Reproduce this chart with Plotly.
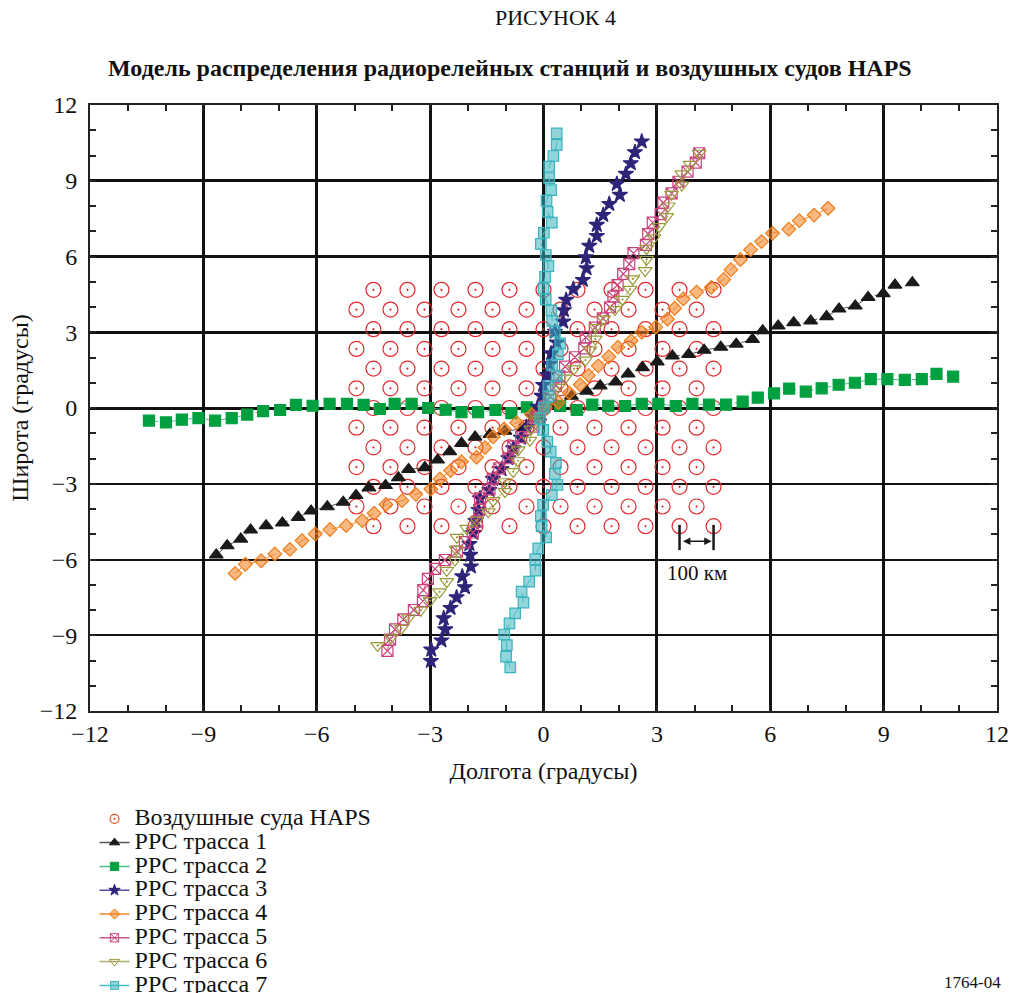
import plotly.graph_objects as go

# ---- HAPS platform lattice (degrees) ----
haps_rows = [4.68, 3.90, 3.12, 2.34, 1.56, 0.78, 0.0, -0.78, -1.56, -2.34, -3.12, -3.90, -4.68]
haps_cols_even = [-4.5, -3.6, -2.7, -1.8, -0.9, 0.0, 0.9, 1.8, 2.7, 3.6, 4.5]
haps_cols_odd = [-4.95, -4.05, -3.15, -2.25, -1.35, -0.45, 0.45, 1.35, 2.25, 3.15, 4.05]

# ---- FS (РРС) routes: longitude / latitude of each station ----
t1_lon = [-8.66, -8.37, -8.01, -7.75, -7.34, -6.91, -6.49, -6.15, -5.72, -5.30, -4.96, -4.62, -4.18,
          -3.84, -3.57, -3.14, -2.80, -2.48, -2.17, -1.81, -1.42, -1.02, -0.53, -0.10, 0.33, 0.74,
          1.14, 1.50, 1.91, 2.24, 2.62, 3.01, 3.41, 3.84, 4.25, 4.69, 5.10, 5.53, 5.80, 6.21, 6.62,
          7.07, 7.49, 7.82, 8.25, 8.59, 8.99, 9.30, 9.76]
t1_lat = [-5.82, -5.45, -5.19, -4.83, -4.66, -4.55, -4.33, -4.08, -3.91, -3.73, -3.46, -3.16, -3.07,
          -2.76, -2.43, -2.36, -2.06, -1.73, -1.40, -1.15, -1.05, -0.92, -0.80, -0.35, 0.12, 0.47,
          0.67, 0.88, 1.03, 1.35, 1.60, 1.83, 2.06, 2.12, 2.29, 2.41, 2.53, 2.72, 3.06, 3.25, 3.38,
          3.45, 3.62, 3.92, 4.04, 4.38, 4.53, 4.87, 4.96]

t2_lon = [-10.44, -9.99, -9.57, -9.13, -8.69, -8.25, -7.84, -7.42, -6.97, -6.55, -6.11, -5.66, -5.20,
          -4.76, -4.33, -3.94, -3.49, -3.05, -2.59, -2.17, -1.73, -1.27, -0.85, -0.44, -0.02, 0.44,
          0.88, 1.29, 1.71, 2.16, 2.60, 3.04, 3.50, 3.94, 4.38, 4.83, 5.27, 5.67, 6.10, 6.50, 6.94,
          7.36, 7.81, 8.24, 8.66, 9.10, 9.56, 10.01, 10.40, 10.84]
t2_lat = [-0.50, -0.57, -0.46, -0.40, -0.50, -0.40, -0.26, -0.12, -0.08, 0.12, 0.09, 0.16, 0.16,
          0.12, -0.04, 0.16, 0.16, 0.00, -0.07, -0.16, -0.16, -0.08, -0.20, 0.03, 0.03, 0.08,
          -0.08, 0.13, 0.09, 0.08, 0.16, 0.16, 0.08, 0.16, 0.13, 0.13, 0.25, 0.41, 0.58, 0.77, 0.65,
          0.78, 0.92, 1.00, 1.14, 1.14, 1.11, 1.14, 1.35, 1.24]

t3_lon = [-2.98, -2.97, -2.70, -2.60, -2.64, -2.46, -2.30, -2.08, -2.15, -1.92, -1.94, -1.96, -1.86,
          -1.80, -1.72, -1.68, -1.43, -1.34, -1.11, -0.93, -0.80, -0.60, -0.45, -0.30, -0.15, -0.05,
          -0.01, 0.10, 0.17, 0.20, 0.35, 0.30, 0.52, 0.54, 0.60, 0.79, 1.04, 1.14, 1.12, 1.21, 1.41,
          1.41, 1.58, 1.74, 2.02, 1.94, 2.18, 2.31, 2.42, 2.60]
t3_lat = [-10.02, -9.57, -9.21, -8.77, -8.33, -7.92, -7.50, -7.10, -6.67, -6.28, -5.82, -5.39, -4.95,
          -4.48, -4.04, -3.58, -3.25, -2.81, -2.43, -1.99, -1.60, -1.18, -0.75, -0.35, 0.05, 0.48,
          0.91, 1.30, 1.74, 2.16, 2.59, 3.02, 3.42, 3.87, 4.28, 4.71, 5.07, 5.53, 5.97, 6.42, 6.81,
          7.25, 7.64, 8.08, 8.44, 8.87, 9.27, 9.69, 10.13, 10.55]

t4_lon = [-8.16, -7.89, -7.47, -7.11, -6.71, -6.39, -6.04, -5.65, -5.22, -4.80, -4.48, -4.17, -3.74,
          -3.38, -2.98, -2.74, -2.46, -2.17, -1.77, -1.55, -1.33, -1.04, -0.71, -0.31, 0.05, 0.39,
          0.68, 0.97, 1.19, 1.45, 1.73, 1.97, 2.32, 2.60, 2.97, 3.28, 3.47, 3.70, 4.05, 4.44, 4.77,
          4.96, 5.21, 5.48, 5.77, 6.06, 6.49, 6.77, 7.16, 7.53]
t4_lat = [-6.55, -6.19, -6.05, -5.78, -5.60, -5.25, -4.99, -4.81, -4.66, -4.46, -4.17, -3.82, -3.67,
          -3.42, -3.21, -2.81, -2.48, -2.13, -1.95, -1.57, -1.14, -0.83, -0.58, -0.26, 0.00, 0.22,
          0.60, 0.92, 1.29, 1.67, 2.03, 2.41, 2.66, 3.00, 3.20, 3.52, 3.95, 4.32, 4.59, 4.78, 5.09,
          5.48, 5.88, 6.27, 6.59, 6.92, 7.08, 7.42, 7.64, 7.91]

t5_lon = [-4.13, -4.06, -3.93, -3.71, -3.43, -3.19, -3.18, -3.06, -2.87, -2.61, -2.29, -2.08, -1.87,
          -1.76, -1.70, -1.68, -1.43, -1.34, -1.17, -0.93, -0.80, -0.59, -0.27, -0.15, 0.02, 0.18,
          0.33, 0.42, 0.57, 0.83, 1.08, 1.12, 1.36, 1.57, 1.76, 1.85, 1.96, 2.11, 2.27, 2.38, 2.71,
          2.77, 2.89, 3.10, 3.17, 3.39, 3.57, 3.81, 4.03, 4.12]
t5_lat = [-9.62, -9.17, -8.77, -8.37, -8.00, -7.65, -7.21, -6.77, -6.37, -6.02, -5.69, -5.31, -4.93,
          -4.50, -4.04, -3.58, -3.22, -2.81, -2.39, -1.99, -1.53, -1.15, -0.74, -0.35, 0.05, 0.45,
          0.88, 1.25, 1.64, 2.01, 2.36, 2.80, 3.18, 3.55, 3.99, 4.41, 4.87, 5.31, 5.70, 6.13, 6.46,
          6.89, 7.34, 7.68, 8.13, 8.50, 8.96, 9.36, 9.72, 10.09]

t6_lon = [-4.39, -4.04, -3.76, -3.57, -3.25, -3.00, -2.75, -2.56, -2.56, -2.34, -2.31, -2.29, -2.03,
          -1.77, -1.46, -1.33, -1.02, -1.02, -0.80, -0.68, -0.67, -0.36, -0.33, -0.15, 0.02, 0.20,
          0.39, 0.57, 0.81, 1.11, 1.23, 1.37, 1.38, 1.59, 1.89, 2.09, 2.29, 2.36, 2.69, 2.73, 2.73,
          2.92, 3.06, 3.26, 3.30, 3.39, 3.66, 3.66, 3.88, 4.12]
t6_lat = [-9.41, -9.10, -8.73, -8.31, -8.01, -7.63, -7.28, -6.88, -6.43, -6.02, -5.60, -5.12, -4.77,
          -4.44, -4.11, -3.67, -3.31, -2.92, -2.52, -2.09, -1.66, -1.28, -0.84, -0.45, -0.03, 0.40,
          0.82, 1.18, 1.55, 1.90, 2.30, 2.73, 3.18, 3.53, 3.90, 4.30, 4.70, 5.11, 5.44, 5.89, 6.32,
          6.74, 7.18, 7.58, 8.00, 8.46, 8.83, 9.27, 9.65, 10.09]

t7_lon = [-0.88, -0.99, -0.97, -1.04, -0.90, -0.75, -0.53, -0.58, -0.38, -0.21, -0.22, -0.14, 0.07,
          -0.05, -0.07, -0.01, 0.22, 0.37, 0.30, 0.33, 0.19, 0.10, -0.01, -0.09, 0.01, 0.13,
          0.13, 0.35, 0.23, 0.38, 0.44, 0.30, 0.23, 0.21, 0.06, 0.00, 0.04, 0.13, 0.06, -0.07, 0.01,
          0.22, 0.11, 0.08, 0.20, 0.15, 0.15, 0.26, 0.35, 0.35]
t7_lat = [-10.27, -9.85, -9.39, -8.97, -8.53, -8.13, -7.71, -7.27, -6.88, -6.44, -5.99, -5.56, -5.12,
          -4.68, -4.28, -3.84, -3.45, -3.05, -2.61, -2.17, -1.73, -1.33, -0.87, -0.42, 0.01, 0.45,
          0.87, 1.27, 1.70, 2.13, 2.56, 3.02, 3.45, 3.87, 4.30, 4.74, 5.19, 5.62, 6.06, 6.50, 6.94,
          7.34, 7.77, 8.21, 8.63, 9.10, 9.56, 9.98, 10.42, 10.88]

haps_name = "Воздушные суда HAPS"
track_names = ["РРС трасса 1", "РРС трасса 2", "РРС трасса 3", "РРС трасса 4",
               "РРС трасса 5", "РРС трасса 6", "РРС трасса 7"]
axis_ticks = [-12, -9, -6, -3, 0, 3, 6, 9, 12]
heavy_lat_lines = [0, 3, 6, 9]

SERIF = "Liberation Serif, Times New Roman, serif"
INK = "#111111"


def legend_label(text):
    # large serif glyphs on a tight legend line pitch
    return ('<span style="font-size:24px;font-family:Liberation Serif,serif">'
            + text + "</span>")


# Build HAPS lattice points row by row (rows alternate between the two column sets)
haps_x, haps_y = [], []
for i, lat in enumerate(haps_rows):
    cols = haps_cols_even if i % 2 == 0 else haps_cols_odd
    for lon in cols:
        haps_x.append(lon)
        haps_y.append(lat)

fig = go.Figure()

HAPS_RED = "#e2282c"
fig.add_trace(go.Scatter(
    x=haps_x, y=haps_y, mode="markers", name=haps_name, legendgroup="haps",
    showlegend=False,
    marker=dict(symbol="circle-open-dot", size=15, color=HAPS_RED, line=dict(width=1.2)),
))
# compact legend key for the platforms
fig.add_trace(go.Scatter(
    x=[None], y=[None], mode="markers", name=legend_label(haps_name), legendgroup="haps",
    marker=dict(symbol="circle-open-dot", size=9, color="#e8542c", line=dict(width=1.2)),
    hoverinfo="skip",
))

# (lon, lat, marker symbol, marker size, marker colour, fill colour, line colour)
track_styles = [
    (t1_lon, t1_lat, "triangle-up", 12, "#1a1a1a", "#1a1a1a", "#555555"),
    (t2_lon, t2_lat, "square", 11, "#00a040", "#00a040", "#48c088"),
    (t3_lon, t3_lat, "star", 11.5, "#2e2478", "#2e2478", "#5a4c9c"),
    (t4_lon, t4_lat, "diamond", 10.5, "#f07d19", "rgba(240,125,25,0.55)", "#f08a30"),
    (t5_lon, t5_lat, "square-x-open", 11, "#c8407c", "#c8407c", "#c85a8c"),
    (t6_lon, t6_lat, "triangle-down-open-dot", 12, "#9a9a3a", "#9a9a3a", "#b0b070"),
    (t7_lon, t7_lat, "square", 10.5, "#38b4be", "rgba(56,180,190,0.55)", "#40c0c4"),
]

for idx, (name, (lon, lat, sym, size, mcol, fcol, lcol)) in enumerate(zip(track_names, track_styles)):
    group = "track%d" % (idx + 1)
    fig.add_trace(go.Scatter(
        x=lon, y=lat, mode="lines+markers", name=name, legendgroup=group, showlegend=False,
        line=dict(color=lcol, width=1, dash="dash"),
        marker=dict(symbol=sym, size=size, color=fcol, line=dict(color=mcol, width=1.2)),
    ))
    # legend key: solid line with a small marker
    fig.add_trace(go.Scatter(
        x=[None], y=[None], mode="lines+markers", name=legend_label(name), legendgroup=group,
        line=dict(color=lcol, width=1.5),
        marker=dict(symbol=sym, size=size * 0.75, color=fcol, line=dict(color=mcol, width=1)),
        hoverinfo="skip",
    ))

# empty trace that carries the heavier latitude grid lines
fig.add_trace(go.Scatter(x=[None], y=[None], yaxis="y2", showlegend=False,
                         hoverinfo="skip"))

# Scale bar between two neighbouring platforms of the bottom row
bar_x0, bar_x1 = haps_cols_even[-2], haps_cols_even[-1]
bar_top = haps_rows[-1] + 0.05
bar_bot = haps_rows[-1] - 0.95
bar_mid = haps_rows[-1] - 0.6
for bx in (bar_x0, bar_x1):
    fig.add_shape(type="line", xref="x", yref="y", x0=bx, x1=bx, y0=bar_top, y1=bar_bot,
                  line=dict(color="#1a1a1a", width=2.5))
fig.add_annotation(x=bar_x1 - 0.05, y=bar_mid, ax=bar_x0 + 0.05, ay=bar_mid,
                   xref="x", yref="y", axref="x", ayref="y", text="",
                   showarrow=True, arrowhead=2, arrowside="end+start",
                   arrowsize=1, arrowwidth=1.5, arrowcolor="#1a1a1a")
fig.add_annotation(x=(bar_x0 + bar_x1) / 2, y=bar_bot - 0.9, xref="x", yref="y",
                   text="100 км", showarrow=False,
                   font=dict(family=SERIF, size=21, color=INK))

# Headings
fig.add_annotation(x=0.513, y=1.144, xref="paper", yref="paper", text="РИСУНОК 4",
                   yanchor="middle", showarrow=False,
                   font=dict(family=SERIF, size=22, color=INK))
fig.add_annotation(x=0.463, y=1.061, xref="paper", yref="paper",
                   text="<b>Модель распределения радиорелейных станций и воздушных судов HAPS</b>",
                   yanchor="middle", showarrow=False,
                   font=dict(family=SERIF, size=24, color=INK))
fig.add_annotation(x=1.007, y=-0.448, xref="paper", yref="paper", text="1764-04",
                   xanchor="right", yanchor="middle", showarrow=False,
                   font=dict(family=SERIF, size=17, color=INK))

axis_common = dict(
    range=[-12, 12], tickvals=axis_ticks, showgrid=True, gridcolor=INK, gridwidth=2.5,
    zeroline=False, showline=True, linecolor="#222222", linewidth=2, mirror="ticks",
    ticks="inside", ticklen=0, tickcolor="#222222",
    minor=dict(dtick=1, ticks="inside", ticklen=6, tickcolor="#222222", tickwidth=1.5,
               showgrid=False),
    tickfont=dict(family=SERIF, size=24, color=INK),
    fixedrange=True,
)

fig.update_layout(
    width=1010, height=993,
    margin=dict(l=90, r=13, t=105, b=282, autoexpand=False),
    paper_bgcolor="white", plot_bgcolor="white",
    xaxis=dict(axis_common, title=dict(text="Долгота (градусы)", standoff=16,
                                       font=dict(family=SERIF, size=24, color=INK))),
    yaxis=dict(axis_common, gridwidth=1.5, ticklabelstandoff=6,
               title=dict(text="Широта (градусы)", standoff=4,
                          font=dict(family=SERIF, size=24, color=INK))),
    yaxis2=dict(overlaying="y", range=[-12, 12], tickvals=heavy_lat_lines, showgrid=True,
                gridcolor=INK, gridwidth=2.5, showticklabels=False, ticks="",
                showline=False, zeroline=False, fixedrange=True),
    legend=dict(x=0.005, y=-0.150, xanchor="left", yanchor="top",
                font=dict(family=SERIF, size=16, color=INK),
                bgcolor="rgba(0,0,0,0)", tracegroupgap=0),
    showlegend=True,
)

fig.write_html("out.html")
